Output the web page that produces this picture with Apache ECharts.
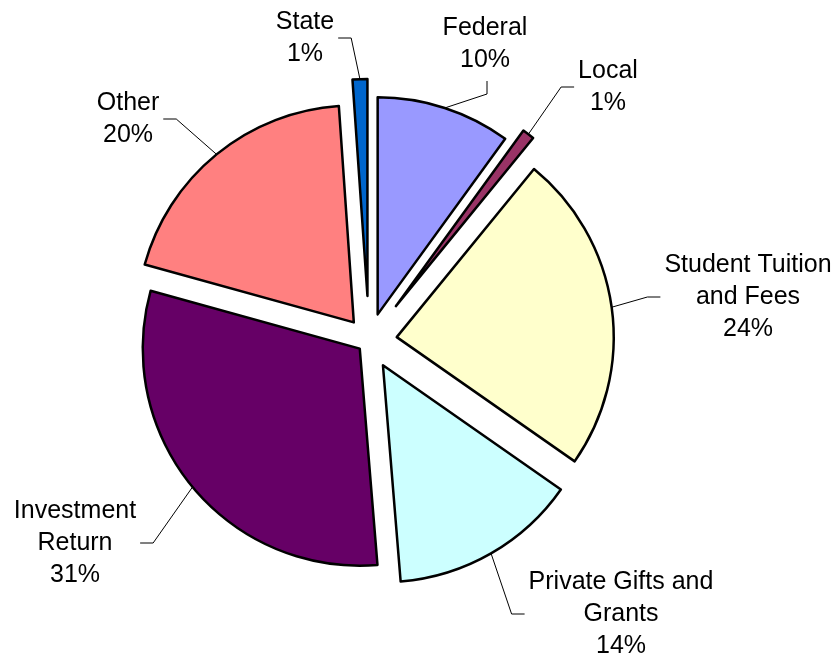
<!DOCTYPE html>
<html>
<head>
<meta charset="utf-8">
<script src="https://cdn.jsdelivr.net/npm/echarts@6/dist/echarts.min.js"></script>
<style>
  html, body { margin: 0; padding: 0; background: #fff; }
  #chart { width: 837px; height: 659px; }
</style>
</head>
<body>
<div id="chart"></div>
<script>
// revenue sources, share of total (%)
const categories = ["Federal", "Local", "Student Tuition\nand Fees", "Private Gifts and\nGrants", "Investment\nReturn", "Other", "State"];
const shares = [10.0, 0.9, 23.8, 14.0, 30.6, 19.6, 1.1];
const colors = ["#9999FF", "#993366", "#FFFFCC", "#CCFFFF", "#660066", "#FF8080", "#0066CC"];

// layout of the exploded pie
const CX = 369, CY = 341, R = 217;
const explode = [28, 44, 28, 28, 12, 24, 45];
const labelAt = [[485, 44], [608, 87], [748, 297], [621, 614], [75, 543], [128, 119], [305, 38]];
const labelSide = ["top", "right", "right", "right", "left", "left", "left"];

const total = shares.reduce((a, b) => a + b, 0);
let acc = 0;
const midAngles = shares.map(v => {
  const m = (acc + v / 2) / total * 2 * Math.PI;
  acc += v;
  return m;
});

// one pie per slice so every slice can have its own offset
const series = shares.map((v, i) => {
  const a = midAngles[i];
  const cx = CX + explode[i] * Math.sin(a);
  const cy = CY - explode[i] * Math.cos(a);
  const arc = [cx + R * Math.sin(a), cy - R * Math.cos(a)];
  return {
    type: "pie",
    center: [cx, cy],
    radius: R,
    startAngle: 90,
    clockwise: true,
    silent: true,
    animation: false,
    avoidLabelOverlap: false,
    label: {
      position: "outside",
      color: "#000",
      fontFamily: "Liberation Sans, Arial, sans-serif",
      fontSize: 25,
      lineHeight: 32,
      formatter: p => p.name + "\n" + Math.round(p.percent) + "%"
    },
    labelLine: {
      show: true,
      lineStyle: { color: "#000", width: 1 }
    },
    labelLayout: function (p) {
      if (p.dataIndex !== i) return;
      const w = p.labelRect.width, h = p.labelRect.height;
      const lx = labelAt[i][0], ly = labelAt[i][1];
      let end, elbow;
      if (labelSide[i] === "top") {
        end = [lx + 2, ly + h / 2 + 5];
        elbow = [end[0], end[1] + 13];
      } else if (labelSide[i] === "right") {
        end = [lx - w / 2 - 4, ly];
        elbow = [end[0] - 13, ly];
      } else {
        end = [lx + w / 2 + 4, ly];
        elbow = [end[0] + 13, ly];
      }
      return {
        x: lx,
        y: ly,
        align: "center",
        verticalAlign: "middle",
        labelLinePoints: [arc, elbow, end]
      };
    },
    data: categories.map((name, j) => ({
      name: name,
      value: shares[j],
      itemStyle: j === i
        ? { color: colors[j], borderColor: "#000", borderWidth: 2.5 }
        : { color: "rgba(0,0,0,0)", borderWidth: 0 },
      label: { show: j === i },
      labelLine: { show: j === i }
    }))
  };
});

const chart = echarts.init(document.getElementById("chart"));
chart.setOption({
  backgroundColor: "#fff",
  series: series
});
</script>
</body>
</html>
